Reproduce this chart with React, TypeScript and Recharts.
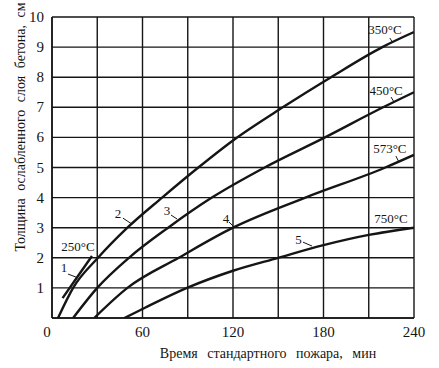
import React from 'react'
import { CartesianGrid, Label, Line, LineChart, ReferenceDot, ReferenceLine, XAxis, YAxis } from 'recharts'

// time, min -> thickness of weakened concrete layer, cm
const c1T = [7, 17, 26.5]
const c1D = [0.66, 1.38, 2.06]
const c2T = [4, 14, 30.5, 50, 73, 97, 120, 153, 185, 219, 240]
const c2D = [0, 1, 2, 3, 4, 5, 5.9, 7, 8, 9, 9.5]
const c3T = [14, 30, 51, 77, 106, 141, 181, 219.5, 240]
const c3D = [0, 1, 2, 3, 4, 5, 6, 7, 7.5]
const c4T = [28, 50, 84, 120, 168, 221, 240]
const c4D = [0, 1, 2, 3, 4, 5, 5.42]
const c5T = [48, 62, 89.5, 120, 150, 180, 210, 240]
const c5D = [0, 0.35, 1, 1.57, 2.0, 2.42, 2.76, 3.0]

const xTicks = [0, 30, 60, 90, 120, 150, 180, 210, 240]
const yTicks = [0, 1, 2, 3, 4, 5, 6, 7, 8, 9, 10]

// curve annotations
const labelText = ['250°C', '350°C', '450°C', '573°C', '750°C', '1', '2', '3', '4', '5']
const labelT = [17.2, 220.8, 221.5, 224, 224.7, 8, 43.8, 76.2, 115.4, 163.4]
const labelD = [2.23, 9.45, 7.41, 5.48, 3.17, 1.53, 3.32, 3.42, 3.16, 2.46]
// leader strokes: [t0, d0, t1, d1]
const leaders = [
  [10.6, 1.46, 15.9, 1.36],
  [47, 3.32, 53, 3.12],
  [78.9, 3.42, 82.9, 3.29],
  [117.3, 3.19, 120, 3.06],
  [166.4, 2.52, 172.4, 2.39],
  [224, 9.3, 226, 9.14],
  [224.8, 7.34, 226.7, 7.18],
  [228, 5.38, 230, 5.18],
]

const zip = (t: number[], d: number[]) => t.map((v, i) => ({ t: v, d: d[i] }))
const curves = [zip(c1T, c1D), zip(c2T, c2D), zip(c3T, c3D), zip(c4T, c4D), zip(c5T, c5D)]

const ink = '#151515'
const font = '"Liberation Serif", "DejaVu Serif", serif'

const XTick = ({ x, y, payload }: any) => {
  if (payload.value % 60 !== 0) return <g />
  return (
    <text x={x + (payload.value === 0 ? -5 : 0)} y={y + 19} textAnchor="middle" fontSize={15} fontFamily={font} fill={ink}>
      {payload.value}
    </text>
  )
}

const YTick = ({ x, y, payload }: any) => {
  if (payload.value === 0) return <g />
  return (
    <text x={x - 8} y={y + 5} textAnchor="end" fontSize={15} fontFamily={font} fill={ink}>
      {payload.value}
    </text>
  )
}

export default function App() {
  return (
    <div style={{ position: 'absolute', left: 0, top: 0, background: '#fff' }}>
      <LineChart width={439} height={368} margin={{ top: 17, right: 25, bottom: 0, left: 0 }}>
        <CartesianGrid stroke={ink} strokeWidth={1.4} />
        <XAxis
          type="number"
          dataKey="t"
          domain={[0, 240]}
          ticks={xTicks}
          interval={0}
          height={50}
          tickSize={0}
          tickMargin={0}
          tickLine={false}
          axisLine={{ stroke: ink, strokeWidth: 1.5 }}
          tick={<XTick />}
          allowDataOverflow
        >
          <Label
            content={() => (
              <text x={268} y={358} textAnchor="middle" fontSize={14} fontFamily={font} fill={ink} style={{ wordSpacing: 6 }}>
                Время стандартного пожара, мин
              </text>
            )}
          />
        </XAxis>
        <YAxis
          type="number"
          domain={[0, 10]}
          ticks={yTicks}
          interval={0}
          width={52}
          tickSize={0}
          tickMargin={0}
          tickLine={false}
          axisLine={{ stroke: ink, strokeWidth: 1.5 }}
          tick={<YTick />}
          allowDataOverflow
        >
          <Label
            content={() => (
              <text
                transform="rotate(-90)"
                x={-127}
                y={25}
                textAnchor="middle"
                fontSize={14}
                fontFamily={font}
                fill={ink}
                style={{ wordSpacing: 4 }}
              >
                Толщина ослабленного слоя бетона, см
              </text>
            )}
          />
        </YAxis>
        {curves.map((data, i) => (
          <Line
            key={i}
            data={data}
            dataKey="d"
            type="monotone"
            stroke={ink}
            strokeWidth={2.4}
            dot={false}
            activeDot={false}
            isAnimationActive={false}
          />
        ))}
        {leaders.map((s, i) => (
          <ReferenceLine
            key={'l' + i}
            segment={[{ x: s[0], y: s[1] }, { x: s[2], y: s[3] }]}
            stroke={ink}
            strokeWidth={1}
          />
        ))}
        {labelText.map((txt, i) => (
          <ReferenceDot
            key={'t' + i}
            x={labelT[i]}
            y={labelD[i]}
            r={0}
            shape={(p: any) => (
              <text x={p.cx} y={p.cy} textAnchor="middle" fontSize={13} fontFamily={font} fill={ink}>
                {txt}
              </text>
            )}
          />
        ))}
      </LineChart>
    </div>
  )
}
